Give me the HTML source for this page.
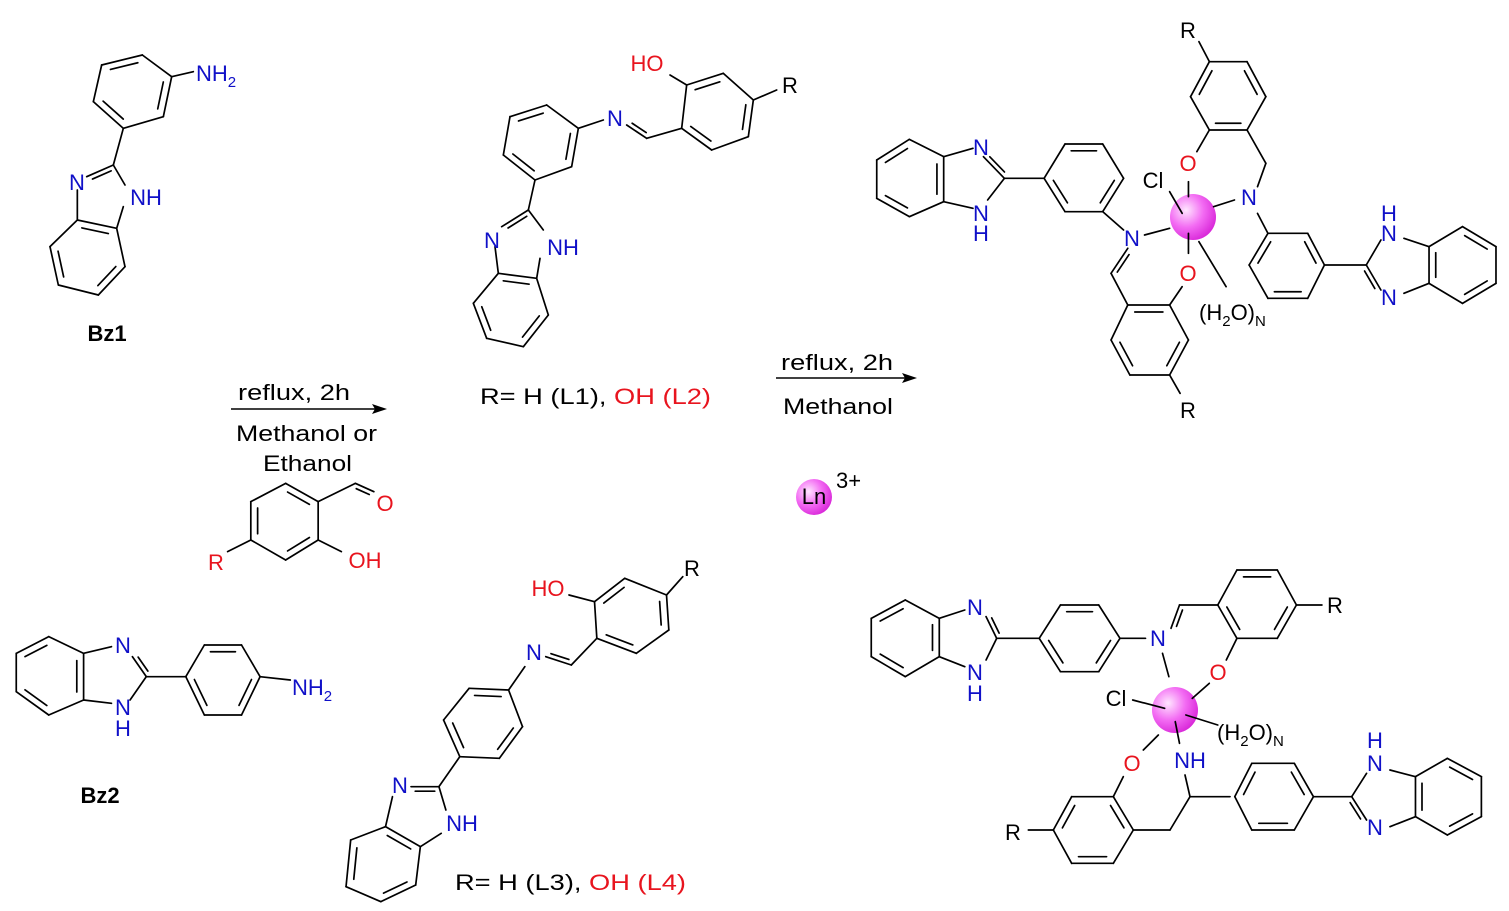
<!DOCTYPE html>
<html><head><meta charset="utf-8"><style>
html,body{margin:0;padding:0;background:#fff}
svg{display:block}
text{font-family:"Liberation Sans",Arial,sans-serif;font-size:22px}
.b{fill:#1010c8}.r{fill:#e8141e}.k{fill:#000}
</style></head><body>
<svg id="s" width="1509" height="911" viewBox="0 0 1509 911" xmlns="http://www.w3.org/2000/svg">
<defs><radialGradient id="g" cx="0.35" cy="0.35" r="0.75"><stop offset="0" stop-color="#ffe6ff"/><stop offset="0.5" stop-color="#f36cf3"/><stop offset="1" stop-color="#d51ed5"/></radialGradient></defs>
<circle cx="1193" cy="217" r="23" fill="url(#g)"/>
<circle cx="1175" cy="710" r="23" fill="url(#g)"/>
<circle cx="814" cy="497" r="18" fill="url(#g)"/>
<g id="bonds" stroke="#000" stroke-width="1.7" fill="none" stroke-linecap="round"></g>
<line x1="231" y1="409" x2="375" y2="409" stroke="#000" stroke-width="1.6"/>
<polygon points="387,409 372,404 375,409 372,414" fill="#000"/>
<line x1="776" y1="378" x2="905" y2="378" stroke="#000" stroke-width="1.6"/>
<polygon points="917,378 902,373 905,378 902,383" fill="#000"/>
<text x="238" y="400" class="k" textLength="112" lengthAdjust="spacingAndGlyphs">reflux, 2h</text>
<text x="236" y="441" class="k" textLength="141" lengthAdjust="spacingAndGlyphs">Methanol or</text>
<text x="263" y="471" class="k" textLength="89" lengthAdjust="spacingAndGlyphs">Ethanol</text>
<text x="781" y="370" class="k" textLength="112" lengthAdjust="spacingAndGlyphs">reflux, 2h</text>
<text x="783" y="414" class="k" textLength="110" lengthAdjust="spacingAndGlyphs">Methanol</text>
<!-- Bz1 -->
<text x="196" y="81" class="b">NH<tspan font-size="15" dy="6">2</tspan></text>
<text x="77" y="190" text-anchor="middle" class="b">N</text>
<text x="146" y="205" text-anchor="middle" class="b">NH</text>
<text x="107" y="341" text-anchor="middle" font-weight="bold" class="k">Bz1</text>
<!-- L1 -->
<text x="647" y="71" text-anchor="middle" class="r">HO</text>
<text x="790" y="93" text-anchor="middle" class="k">R</text>
<text x="615" y="126" text-anchor="middle" class="b">N</text>
<text x="492" y="248" text-anchor="middle" class="b">N</text>
<text x="563" y="255" text-anchor="middle" class="b">NH</text>
<text x="480" y="404" class="k" textLength="231" lengthAdjust="spacingAndGlyphs">R= H (L1), <tspan class="r">OH (L2)</tspan></text>
<!-- salicylaldehyde -->
<text x="385" y="511" text-anchor="middle" class="r">O</text>
<text x="365" y="568" text-anchor="middle" class="r">OH</text>
<text x="216" y="570" text-anchor="middle" class="r">R</text>
<!-- Bz2 -->
<text x="123" y="653" text-anchor="middle" class="b">N</text>
<text x="123" y="715" text-anchor="middle" class="b">N</text>
<text x="123" y="736" text-anchor="middle" class="b">H</text>
<text x="292" y="695" class="b">NH<tspan font-size="15" dy="6">2</tspan></text>
<text x="100" y="803" text-anchor="middle" font-weight="bold" class="k">Bz2</text>
<!-- L3 -->
<text x="548" y="596" text-anchor="middle" class="r">HO</text>
<text x="692" y="576" text-anchor="middle" class="k">R</text>
<text x="534" y="660" text-anchor="middle" class="b">N</text>
<text x="400" y="793" text-anchor="middle" class="b">N</text>
<text x="462" y="831" text-anchor="middle" class="b">NH</text>
<text x="455" y="890" class="k" textLength="231" lengthAdjust="spacingAndGlyphs">R= H (L3), <tspan class="r">OH (L4)</tspan></text>
<!-- Ln legend -->
<text x="814" y="504" text-anchor="middle" class="k" font-size="19">Ln</text>
<text x="836" y="488" class="k" font-size="19">3+</text>
<!-- top complex -->
<text x="1188" y="38" text-anchor="middle" class="k">R</text>
<text x="981" y="155" text-anchor="middle" class="b">N</text>
<text x="981" y="221" text-anchor="middle" class="b">N</text>
<text x="981" y="241" text-anchor="middle" class="b">H</text>
<text x="1153" y="188" text-anchor="middle" class="k">Cl</text>
<text x="1188" y="171" text-anchor="middle" class="r">O</text>
<text x="1132" y="246" text-anchor="middle" class="b">N</text>
<text x="1249" y="205" text-anchor="middle" class="b">N</text>
<text x="1188" y="281" text-anchor="middle" class="r">O</text>
<text x="1199" y="320" class="k">(H<tspan font-size="15" dy="6">2</tspan><tspan dy="-6">O)</tspan><tspan font-size="15" dy="6">N</tspan></text>
<text x="1188" y="418" text-anchor="middle" class="k">R</text>
<text x="1389" y="221" text-anchor="middle" class="b">H</text>
<text x="1389" y="241" text-anchor="middle" class="b">N</text>
<text x="1389" y="305" text-anchor="middle" class="b">N</text>
<!-- bottom complex -->
<text x="975" y="615" text-anchor="middle" class="b">N</text>
<text x="975" y="680" text-anchor="middle" class="b">N</text>
<text x="975" y="701" text-anchor="middle" class="b">H</text>
<text x="1158" y="646" text-anchor="middle" class="b">N</text>
<text x="1335" y="613" text-anchor="middle" class="k">R</text>
<text x="1218" y="680" text-anchor="middle" class="r">O</text>
<text x="1116" y="706" text-anchor="middle" class="k">Cl</text>
<text x="1217" y="740" class="k">(H<tspan font-size="15" dy="6">2</tspan><tspan dy="-6">O)</tspan><tspan font-size="15" dy="6">N</tspan></text>
<text x="1190" y="768" text-anchor="middle" class="b">NH</text>
<text x="1132" y="771" text-anchor="middle" class="r">O</text>
<text x="1375" y="748" text-anchor="middle" class="b">H</text>
<text x="1375" y="771" text-anchor="middle" class="b">N</text>
<text x="1375" y="835" text-anchor="middle" class="b">N</text>
<text x="1013" y="840" text-anchor="middle" class="k">R</text>
</svg>
<script>
var G=document.getElementById('bonds'),NS='http://www.w3.org/2000/svg';
function ln(a,b,c,d){var e=document.createElementNS(NS,'line');e.setAttribute('x1',a);e.setAttribute('y1',b);e.setAttribute('x2',c);e.setAttribute('y2',d);G.appendChild(e);}
function T(f,x,y){return [f[0]+x/f[2],f[1]+y/f[3]];}
function L(f,a,b,c,d){var p=T(f,a,b),q=T(f,c,d);ln(p[0],p[1],q[0],q[1]);}
function D(f,a,b,c,d,s){s=s||1;var p=T(f,a,b),q=T(f,c,d);ln(p[0],p[1],q[0],q[1]);
var dx=q[0]-p[0],dy=q[1]-p[1],l=Math.hypot(dx,dy),nx=-dy/l*4.5*s,ny=dx/l*4.5*s;
ln(p[0]+nx+dx*.15,p[1]+ny+dy*.15,q[0]+nx-dx*.15,q[1]+ny-dy*.15);}
function R(f,pts,dbl){var P=pts.map(function(v){return T(f,v[0],v[1]);}),cx=0,cy=0;
P.forEach(function(v){cx+=v[0];cy+=v[1];});cx/=P.length;cy/=P.length;
for(var i=0;i<P.length;i++){var a=P[i],b=P[(i+1)%P.length];ln(a[0],a[1],b[0],b[1]);
if(dbl.indexOf(i)>=0){var a2=[a[0]+(cx-a[0])*.2,a[1]+(cy-a[1])*.2],b2=[b[0]+(cx-b[0])*.2,b[1]+(cy-b[1])*.2];
var dx=b2[0]-a2[0],dy=b2[1]-a2[1];ln(a2[0]+dx*.08,a2[1]+dy*.08,b2[0]-dx*.08,b2[1]-dy*.08);}}}
var F1=[0,0,3,3],F2=[440,40,3,3],F3=[860,0,2.39,3],F4=[0,470,2.153,3],F5=[850,540,2.352,3],F6=[950,700,3,3];
R(F1,[[427,165],[305,195],[280,305],[370,385],[490,350],[515,230]],[0,2,4]);
L(F1,515,230,580,215);L(F1,370,385,340,495);D(F1,340,495,260,530,-1);
L(F1,232,570,232,660);L(F1,340,495,375,555);L(F1,370,620,350,685);
R(F1,[[232,660],[350,685],[375,800],[295,885],[175,855],[150,740]],[0,2,4]);
R(F2,[[320,195],[210,230],[190,345],[285,420],[395,380],[415,265]],[0,2,4]);
L(F2,415,265,490,240);D(F2,560,255,620,295,-1);L(F2,620,295,725,265);
R(F2,[[725,265],[740,135],[850,100],[940,180],[925,290],[815,330]],[1,3,5]);
L(F2,740,135,690,105);L(F2,940,180,1010,150);
L(F2,285,420,265,510);D(F2,265,510,185,560,-1);L(F2,265,510,310,570);L(F2,300,655,290,715);L(F2,165,620,175,700);
R(F2,[[175,700],[290,715],[325,825],[250,920],[140,895],[100,790]],[0,2,4]);
R(F3,[[118,418],[40,480],[40,595],[118,650],[200,605],[200,470]],[0,2,4]);
L(F3,200,470,270,445);D(F3,295,470,345,535,-1);L(F3,345,535,305,600);L(F3,270,625,200,605);
L(F3,345,535,440,535);
R(F3,[[440,535],[490,432],[580,432],[630,535],[580,635],[490,635]],[1,3,5]);
L(F3,580,635,630,690);D(F3,640,745,600,820,-1);L(F3,600,820,640,915);
R(F3,[[640,915],[740,915],[785,1020],[740,1125],[645,1125],[600,1020]],[0,2,4]);
L(F3,740,1125,765,1180);L(F3,740,915,770,860);L(F3,785,760,785,700);L(F3,785,545,785,590);
L(F3,740,575,770,640);L(F3,680,705,740,685);L(F3,810,725,875,860);L(F3,845,620,895,600);
R(F3,[[835,185],[925,185],[970,290],[925,390],[835,390],[790,290]],[1,3,5]);
L(F3,835,185,810,125);L(F3,835,390,805,455);L(F3,925,390,970,490);L(F3,970,490,950,560);
L(F3,950,640,975,700);
R(F3,[[975,700],[1070,700],[1110,795],[1070,895],[975,895],[930,795]],[1,3,5]);
L(F3,1110,795,1210,795);L(F3,1210,795,1245,720);L(F3,1300,715,1360,740);D(F3,1210,795,1245,870);L(F3,1300,880,1360,850);
R(F3,[[1360,740],[1440,680],[1520,740],[1520,850],[1440,910],[1360,850]],[1,3,5]);
R(F4,[[615,40],[685,95],[685,210],[615,270],[540,210],[540,95]],[0,2,4]);
L(F4,685,95,765,40);D(F4,765,40,805,65);L(F4,685,210,735,245);L(F4,540,210,490,245);
R(F4,[[105,500],[35,550],[35,665],[105,735],[180,690],[180,550]],[0,2,4]);
L(F4,180,550,240,530);D(F4,285,560,315,620,-1);L(F4,315,620,280,690);L(F4,240,700,180,690);
L(F4,315,620,400,620);
R(F4,[[440,525],[520,525],[560,620],[520,735],[440,735],[400,620]],[0,2,4]);
L(F4,560,620,625,630);
R(F4,[[1280,395],[1345,325],[1435,375],[1440,480],[1370,550],[1285,505]],[0,2,4]);
L(F4,1435,375,1470,320);L(F4,1225,375,1280,395);L(F4,1285,505,1230,585);D(F4,1175,560,1230,585,-1);
L(F4,1130,590,1095,660);
R(F4,[[1010,655],[1095,660],[1125,770],[1075,865],[990,860],[955,750]],[0,2,4]);
L(F4,990,860,945,950);D(F4,945,950,885,950,-1);L(F4,945,950,960,1020);L(F4,845,980,830,1070);L(F4,950,1090,905,1130);
R(F4,[[830,1070],[905,1130],[895,1245],[820,1295],[745,1250],[755,1110]],[0,2,4]);
R(F5,[[130,180],[50,235],[50,350],[130,410],[210,350],[210,235]],[0,2,4]);
L(F5,210,235,270,210);D(F5,320,230,345,295,-1);L(F5,345,295,320,360);L(F5,270,380,210,350);
L(F5,345,295,445,295);
R(F5,[[445,295],[495,195],[585,195],[635,295],[585,395],[495,395]],[1,3,5]);
L(F5,635,295,695,295);D(F5,755,265,775,195);L(F5,775,195,865,195);
R(F5,[[865,195],[910,90],[1005,90],[1050,195],[1005,295],[910,295]],[1,3,5]);
L(F5,1050,195,1110,195);L(F5,910,295,885,360);L(F5,845,430,805,475);L(F5,735,340,750,410);
L(F5,665,480,740,505);L(F5,790,525,865,555);L(F5,765,545,775,610);
R(F5,[[945,670],[1045,670],[1090,770],[1045,870],[945,870],[905,770]],[1,3,5]);
L(F5,1090,770,1180,770);L(F5,1180,770,1215,700);L(F5,1270,690,1330,710);D(F5,1180,770,1215,840);L(F5,1270,860,1330,830);
R(F5,[[1330,710],[1405,655],[1485,710],[1485,830],[1405,885],[1330,830]],[1,3,5]);
R(F6,[[365,290],[490,290],[550,390],[490,490],[365,490],[310,390]],[1,3,5]);
L(F6,235,390,310,390);L(F6,520,230,490,290);L(F6,580,150,625,105);L(F6,550,390,660,390);
L(F6,660,390,720,290);L(F6,720,290,705,225);L(F6,720,290,840,290);
</script>
</body></html>
